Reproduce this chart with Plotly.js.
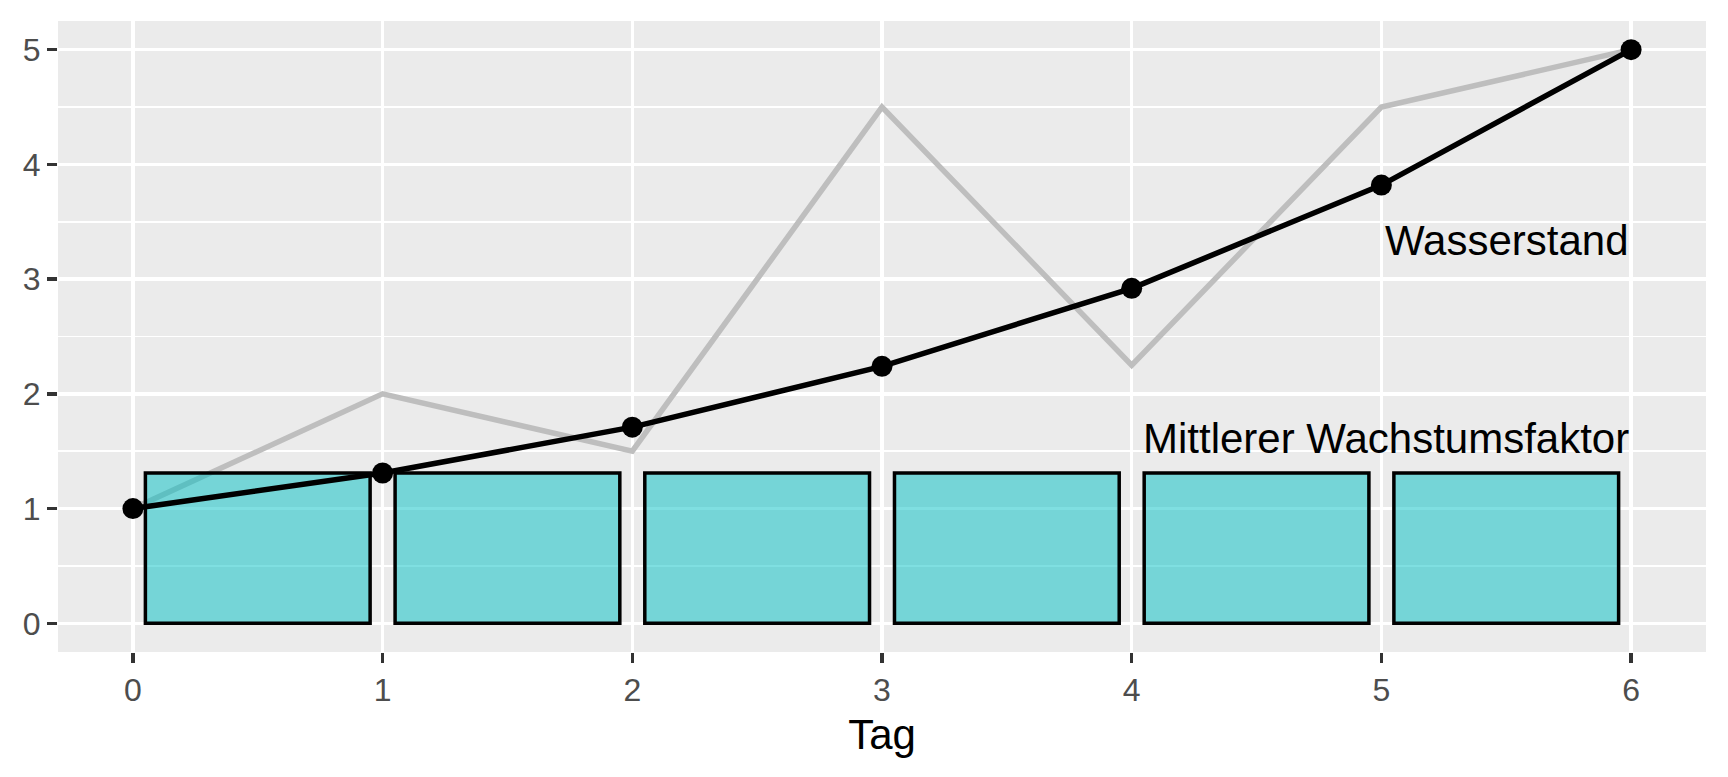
<!DOCTYPE html>
<html>
<head>
<meta charset="utf-8">
<script src="https://cdn.plot.ly/plotly-3.0.1.min.js"></script>
<style>
  html, body { margin: 0; padding: 0; background: #ffffff; }
  #chart { width: 1728px; height: 777px; }
</style>
</head>
<body>
<div id="chart"></div>
<script>
// ---- data ----
const tage = [0, 1, 2, 3, 4, 5, 6];
const wasserstand = [1, 1.31, 1.71, 2.24, 2.92, 3.82, 5.0];
const beobachtet = [1, 2, 1.5, 4.5, 2.25, 4.5, 5.0];
const mittlererFaktor = [1.31, 1.31, 1.31, 1.31, 1.31, 1.31];
const xTickLabels = ['0', '1', '2', '3', '4', '5', '6'];
const yTicks = [0, 1, 2, 3, 4, 5];
const labelWasserstand = 'Wasserstand';
const labelFaktor = 'Mittlerer Wachstumsfaktor';
const xTitle = 'Tag';

// bars span each interval between consecutive days
const barCenters = tage.slice(0, -1).map((d, i) => (d + tage[i + 1]) / 2);

const FONT = '"Liberation Sans", Arial, Helvetica, sans-serif';
const xRange = [-0.3, 6.3];
const yRange = [-0.25, 5.25];

const traces = [
  {
    type: 'scatter', mode: 'lines',
    x: tage, y: beobachtet,
    xaxis: 'x', yaxis: 'y',
    line: { color: '#BEBEBE', width: 5.5 },
    hoverinfo: 'skip', showlegend: false
  },
  {
    type: 'bar',
    x: barCenters, y: mittlererFaktor,
    width: 0.9,
    xaxis: 'x2', yaxis: 'y2',
    marker: { color: 'rgba(0,191,196,0.5)', line: { color: '#000000', width: 3.5 } },
    hoverinfo: 'skip', showlegend: false
  },
  {
    type: 'scatter', mode: 'lines+markers',
    x: tage, y: wasserstand,
    xaxis: 'x2', yaxis: 'y2',
    line: { color: '#000000', width: 5.5 },
    marker: { color: '#000000', size: 21 },
    hoverinfo: 'skip', showlegend: false
  }
];

const layout = {
  width: 1728, height: 777,
  margin: { l: 58, r: 22, t: 21, b: 125 },
  paper_bgcolor: '#ffffff',
  plot_bgcolor: '#EBEBEB',
  font: { family: FONT, color: '#000000' },
  showlegend: false,
  bargap: 0,
  xaxis: {
    range: xRange, tickvals: tage, ticktext: xTickLabels,
    showgrid: true, gridcolor: '#ffffff', gridwidth: 3.5,
    zeroline: false, showline: false,
    ticks: 'outside', ticklen: 10, tickwidth: 3.5, tickcolor: '#333333',
    tickfont: { family: FONT, size: 32, color: '#4D4D4D' },
    title: { text: xTitle, font: { family: FONT, size: 42, color: '#000000' }, standoff: 12 },
    fixedrange: true
  },
  yaxis: {
    range: yRange, tickvals: yTicks,
    showgrid: true, gridcolor: '#ffffff', gridwidth: 3.5,
    minor: { dtick: 0.5, tick0: 0, showgrid: true, gridcolor: '#ffffff', gridwidth: 1.8, ticks: '' },
    zeroline: false, showline: false,
    ticks: 'outside', ticklen: 10, tickwidth: 3.5, tickcolor: '#333333',
    tickfont: { family: FONT, size: 32, color: '#4D4D4D' },
    fixedrange: true
  },
  xaxis2: { overlaying: 'x', range: xRange, visible: false, fixedrange: true },
  yaxis2: { overlaying: 'y', range: yRange, visible: false, fixedrange: true },
  annotations: [
    {
      x: 6, y: 3.34, xref: 'x', yref: 'y',
      text: labelWasserstand, showarrow: false,
      xanchor: 'right', yanchor: 'middle',
      font: { family: FONT, size: 42, color: '#000000' }
    },
    {
      x: 6, y: 1.613, xref: 'x', yref: 'y',
      text: labelFaktor, showarrow: false,
      xanchor: 'right', yanchor: 'middle',
      font: { family: FONT, size: 42, color: '#000000' }
    }
  ]
};

Plotly.newPlot('chart', traces, layout, { displayModeBar: false, staticPlot: true });
</script>
</body>
</html>
